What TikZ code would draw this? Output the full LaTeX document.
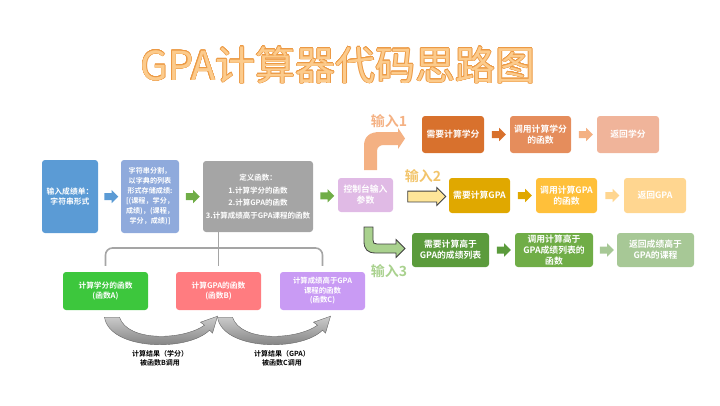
\documentclass[tikz,border=0pt]{standalone}
\usepackage{fontspec}
\setmainfont{Noto Sans CJK SC}[BoldFont={Noto Sans CJK SC Bold}]
\usepackage{contour}
\usetikzlibrary{arrows.meta, shapes.arrows, calc}
\definecolor{inblue}{HTML}{5B9BD5}
\definecolor{splitblue}{HTML}{8FAADC}
\definecolor{defgray}{HTML}{A5A5A5}
\definecolor{ctrlpink}{HTML}{E0BAE5}
\definecolor{onedark}{HTML}{D8712D}
\definecolor{onemid}{HTML}{E58D5C}
\definecolor{onelight}{HTML}{F0B49A}
\definecolor{onearrow}{HTML}{F4B183}
\definecolor{twodark}{HTML}{E0A800}
\definecolor{twomid}{HTML}{FFC03A}
\definecolor{twolight}{HTML}{FFD690}
\definecolor{twolabel}{HTML}{F2C46A}
\definecolor{twoarrow}{HTML}{FFE699}
\definecolor{threedark}{HTML}{5B9B3C}
\definecolor{threemid}{HTML}{70AD47}
\definecolor{threelight}{HTML}{A7C896}
\definecolor{threearrow}{HTML}{A9D18E}
\definecolor{funcA}{HTML}{3DC73D}
\definecolor{funcB}{HTML}{FF7C80}
\definecolor{funcC}{HTML}{C99BF4}
\definecolor{titlefill}{HTML}{FCCB8C}
\definecolor{titleline}{HTML}{EC9A45}
\contourlength{0.5pt}

\tikzset{
  flowbox/.style={rounded corners=3pt, text=white, align=center, inner sep=1pt,
    font=\bfseries\fontsize{8.8}{11}\selectfont},
  smallarrow/.style={single arrow, minimum height=14pt, inner xsep=0pt, inner ysep=3.3pt,
    single arrow head extend=3.2pt},
  treeline/.style={draw=defgray, line width=1.6pt, rounded corners=7pt},
  inputlabel/.style={font=\bfseries\fontsize{14}{14}\selectfont},
}

\begin{document}
\begin{tikzpicture}[x=1pt, y=-1pt]
  \useasboundingbox (0,0) rectangle (720,405);
  % title
  \node[text=titlefill] (title) at (338,65) {\fontsize{40}{40}\selectfont\contour{titleline}{GPA计算器代码思路图}};

  % main chain
  \node[flowbox, fill=inblue, minimum width=56pt, minimum height=73pt,
    font=\bfseries\fontsize{7.8}{10.5}\selectfont] (inp) at (70,196.5)
    {输入成绩单：\\字符串形式};
  \node[flowbox, fill=splitblue, minimum width=58pt, minimum height=73pt,
    font=\bfseries\fontsize{7.1}{10}\selectfont] (split) at (150,196.5)
    {字符串分割，\\以字典的列表\\形式存储成绩:\\{[}(课程，学分，\\成绩)，(课程，\\学分，成绩){]}};
  \node[flowbox, fill=defgray, minimum width=110pt, minimum height=71pt,
    font=\bfseries\fontsize{7.5}{12.5}\selectfont] (defs) at (258,196.5)
    {定义函数：\\1.计算学分的函数\\2.计算GPA的函数\\3.计算成绩高于GPA课程的函数};
  \node[flowbox, fill=ctrlpink, minimum width=55pt, minimum height=34pt] (ctrl) at (365.5,195)
    {控制台输入\\参数};
  \node[smallarrow, fill=inblue] at ($(inp.east)!0.5!(split.west)$) {};
  \node[smallarrow, fill=threemid] at ($(split.east)!0.5!(defs.west)$) {};
  \node[smallarrow, fill=threemid] at ($(defs.east)!0.5!(ctrl.west)$) {};

  % row 1
  \node[flowbox, fill=onedark, minimum width=62pt, minimum height=37pt] (r1a) at (453,134.5) {需要计算学分};
  \node[flowbox, fill=onemid, minimum width=61pt, minimum height=37pt] (r1b) at (540.5,134.5) {调用计算学分\\的函数};
  \node[flowbox, fill=onelight, minimum width=62pt, minimum height=37pt] (r1c) at (628,134.5) {返回学分};
  \node[smallarrow, fill=onedark] at ($(r1a.east)!0.5!(r1b.west)$) {};
  \node[smallarrow, fill=onearrow] at ($(r1b.east)!0.5!(r1c.west)$) {};
  % row 2
  \node[flowbox, fill=twodark, minimum width=61pt, minimum height=35pt] (r2a) at (479.5,195.5) {需要计算GPA};
  \node[flowbox, fill=twomid, minimum width=61pt, minimum height=35pt] (r2b) at (566.5,195.5) {调用计算GPA\\的函数};
  \node[flowbox, fill=twolight, minimum width=62pt, minimum height=35pt] (r2c) at (655,195.5) {返回GPA};
  \node[smallarrow, fill=twodark] at ($(r2a.east)!0.5!(r2b.west)$) {};
  \node[smallarrow, fill=twolight] at ($(r2b.east)!0.5!(r2c.west)$) {};
  % row 3
  \node[flowbox, fill=threedark, minimum width=77pt, minimum height=34pt] (r3a) at (450.5,250) {需要计算高于\\GPA的成绩列表};
  \node[flowbox, fill=threemid, minimum width=78pt, minimum height=34pt,
    font=\bfseries\fontsize{8.8}{10.8}\selectfont] (r3b) at (554,250) {调用计算高于\\GPA成绩列表的\\函数};
  \node[flowbox, fill=threelight, minimum width=77pt, minimum height=34pt] (r3c) at (655.5,250) {返回成绩高于\\GPA的课程};
  \node[smallarrow, fill=threedark] at ($(r3a.east)!0.5!(r3b.west)$) {};
  \node[smallarrow, fill=threelight] at ($(r3b.east)!0.5!(r3c.west)$) {};

  % branch arrows out of the console box
  \fill[onearrow] (364,170) -- (364,146) .. controls (364,136) and (370,132) .. (380,132)
    -- (398,132) -- (398,128) -- (405,138.5) -- (398,149) -- (398,145) -- (384,145)
    .. controls (380,145) and (377,147) .. (377,151) -- (377,170) -- cycle;
  \node[smallarrow, draw=black!75, fill=twoarrow, line width=0.8pt, minimum height=38pt,
    inner ysep=5pt, single arrow head extend=3.5pt] at (424,196.5) {};
  \draw[fill=threearrow, draw=black!75, line width=0.8pt] (364,227) -- (364,241)
    .. controls (364,249) and (367,253) .. (376,253) -- (396,253) -- (396,257.5) -- (405,248.5)
    -- (396,239.5) -- (396,244) -- (377,244) .. controls (374,244) and (373,243) .. (373,240)
    -- (373,227) -- cycle;
  \node[inputlabel, text=onearrow] (in1) at (389,121) {输入1};
  \node[inputlabel, text=twolabel] (in2) at (423,176) {输入2};
  \node[inputlabel, text=threearrow] (in3) at (389,271) {输入3};

  % functions below
  \node[flowbox, fill=funcA, minimum width=85pt, minimum height=38pt,
    font=\bfseries\fontsize{7.7}{10}\selectfont] (fa) at (105.5,291) {计算学分的函数\\(函数A)};
  \node[flowbox, fill=funcB, minimum width=85pt, minimum height=38pt,
    font=\bfseries\fontsize{7.7}{10}\selectfont] (fb) at (218.5,291) {计算GPA的函数\\(函数B)};
  \node[flowbox, fill=funcC, minimum width=85pt, minimum height=38pt,
    font=\bfseries\fontsize{7.4}{9.5}\selectfont] (fc) at (322.5,291) {计算成绩高于GPA\\课程的函数\\(函数C)};
  \coordinate (hub) at (218.5,248);
  \draw[treeline, shorten <=6pt, shorten >=6pt] (fa.north) |- (hub) -| (fc.north);
  \draw[treeline, shorten >=6pt] (defs.south -| fb.north) -- (fb.north);

  % results handed on
  \foreach \src in {fa,fb} {
    \begin{scope}[shift={(\src.south)}]
      \draw[top color=black!20, bottom color=black!55, draw=black!60, line width=0.4pt]
        (-1,7) .. controls (4,40) and (82,42) .. (104,20) -- (107,23) -- (112,6)
        -- (95,12) -- (99,15) .. controls (78,30) and (22,32) .. (14,7) -- cycle;
    \end{scope}
  }
  \node[align=center, font=\bfseries\fontsize{7}{9}\selectfont] (resA) at (160,358)
    {计算结果（学分）\\被函数B调用};
  \node[align=center, font=\bfseries\fontsize{7}{9}\selectfont] (resB) at (282,358)
    {计算结果（GPA）\\被函数C调用};
\end{tikzpicture}
\end{document}
